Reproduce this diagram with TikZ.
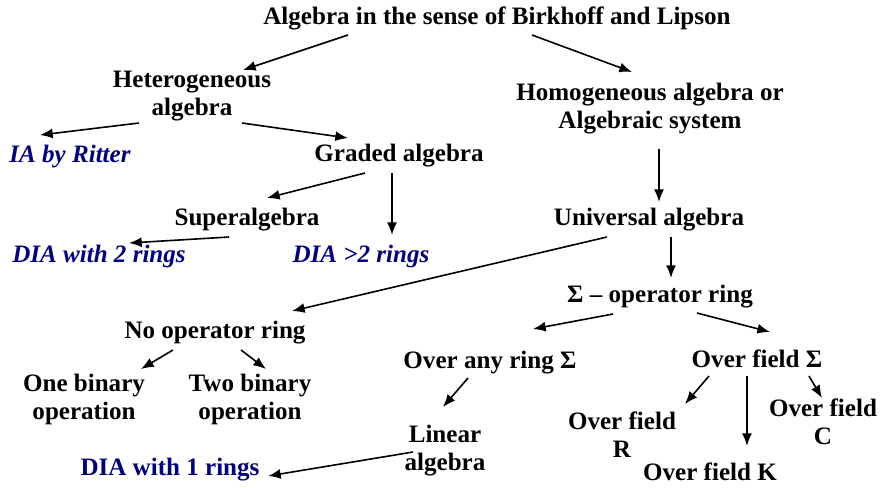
\documentclass[tikz,border=0pt]{standalone}
\usepackage{fontspec}
\setmainfont{Liberation Serif}
\usetikzlibrary{arrows.meta,calc}
\definecolor{refblue}{RGB}{0,0,128}

\begin{document}
\begin{tikzpicture}[
  x=0.75pt,y=-0.75pt,
  lbl/.style={align=center, inner sep=0pt, font=\bfseries\fontsize{18.8}{21}\selectfont},
  ref/.style={lbl, text=refblue, font=\bfseries\itshape\fontsize{18.8}{21}\selectfont},
  refup/.style={lbl, text=refblue},
  arr/.style={-{Latex[length=9.5pt,width=7.5pt]}, line width=1.2pt}
]
\useasboundingbox (0,0) rectangle (881,487);

\node[lbl] (top) at (497,18) {Algebra in the sense of Birkhoff and Lipson};
\node[lbl] (het) at (192,96) {Heterogeneous\\algebra};
\node[lbl] (hom) at (650,109) {Homogeneous algebra or\\Algebraic system};
\node[ref] (ia) at (70,156) {IA by Ritter};
\node[lbl] (graded) at (399,156) {Graded algebra};
\node[lbl] (super) at (247,220) {Superalgebra};
\node[ref] (dia2) at (99,256) {DIA with 2 rings};
\node[ref] (diagt) at (361,256) {DIA >2 rings};
\node[lbl] (univ) at (649,220) {Universal algebra};
\node[lbl] (sigma) at (660,297) {Σ – operator ring};
\node[lbl] (noop) at (215,333) {No operator ring};
\node[lbl] (onebin) at (84,399) {One binary\\operation};
\node[lbl] (twobin) at (250,399) {Two binary\\operation};
\node[lbl] (anyring) at (490,363) {Over any ring Σ};
\node[lbl] (field) at (757,359) {Over field Σ};
\node[lbl] (fieldR) at (622,435) {Over field\\R};
\node[lbl] (fieldC) at (823,422) {Over field\\C};
\node[lbl] (fieldK) at (710,472) {Over field K};
\node[lbl] (linear) at (445,451) {Linear\\algebra};
\node[refup] (dia1) at (170,470) {DIA with 1 rings};

\draw[arr] ($(top)+(-149,17)$) -- ($(het)+(51,-26)$);
\draw[arr] ($(top)+(35,17)$) -- ($(hom)+(-18,-37)$);
\draw[arr] ($(het)+(-53,27)$) -- ($(ia)+(-30,-21)$);
\draw[arr] ($(het)+(50,27)$) -- ($(graded)+(-51,-18)$);
\draw[arr] ($(graded)+(-34,17)$) -- ($(super)+(20,-22)$);
\draw[arr] ($(graded)+(-7,17)$) -- ($(diagt)+(31,-21)$);
\draw[arr] ($(super)+(-18,17)$) -- ($(dia2)+(30,-13)$);
\draw[arr] ($(hom)+(9,40)$) -- ($(univ)+(10,-18)$);
\draw[arr] ($(univ)+(-42,17)$) -- ($(noop)+(77,-22)$);
\draw[arr] ($(univ)+(22,17)$) -- ($(sigma)+(11,-19)$);
\draw[arr] ($(sigma)+(-47,17)$) -- ($(anyring)+(43,-34)$);
\draw[arr] ($(sigma)+(37,16)$) -- ($(field)+(13,-27)$);
\draw[arr] ($(noop)+(-42,17)$) -- ($(onebin)+(57,-30)$);
\draw[arr] ($(noop)+(26,17)$) -- ($(twobin)+(16,-30)$);
\draw[arr] ($(anyring)+(-22,15)$) -- ($(linear)+(-2,-44)$);
\draw[arr] ($(field)+(-48,17)$) -- ($(fieldR)+(63,-31)$);
\draw[arr] ($(field)+(-10,17)$) -- ($(fieldK)+(37,-26)$);
\draw[arr] ($(field)+(52,17)$) -- ($(fieldC)+(-1,-24)$);
\draw[arr] ($(linear)+(-32,1)$) -- ($(dia1)+(98,6)$);
\end{tikzpicture}
\end{document}
